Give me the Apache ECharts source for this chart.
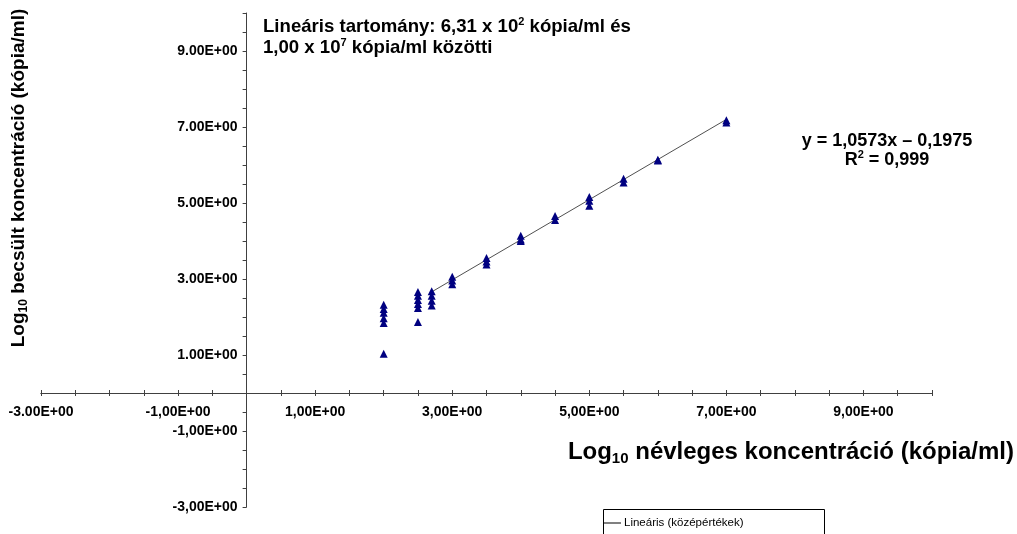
<!DOCTYPE html>
<html><head><meta charset="utf-8">
<script src="https://cdn.jsdelivr.net/npm/echarts@6/dist/echarts.min.js"></script>
<style>html,body{margin:0;padding:0;background:#fff}#chart{width:1017px;height:534px}</style>
</head><body><div id="chart"></div>
<script>
// ---- data ----
const nominalLog = [
  2.0, 2.0, 2.0, 2.0, 2.0, 2.0,
  2.5, 2.5, 2.5, 2.5, 2.5, 2.5,
  2.7, 2.7, 2.7, 2.7,
  3.0, 3.0, 3.0,
  3.5, 3.5, 3.5,
  4.0, 4.0, 4.0,
  4.5, 4.5,
  5.0, 5.0, 5.0,
  5.5, 5.5,
  6.0, 6.0,
  7.0, 7.0
];
const estimatedLog = [
  2.32, 2.21, 2.11, 1.97, 1.84, 1.03,
  2.66, 2.56, 2.45, 2.34, 2.24, 1.87,
  2.68, 2.56, 2.43, 2.30,
  3.06, 2.96, 2.86,
  3.55, 3.46, 3.38,
  4.14, 4.04, 4.00,
  4.66, 4.55,
  5.16, 5.06, 4.93,
  5.64, 5.54,
  6.14, 6.12,
  7.18, 7.12
];
const trendX = [2.7, 7.0];
const trendY = [2.66, 7.20];
const xTickValues = [-3, -1, 1, 3, 5, 7, 9];
const xTickLabels = ['-3.00E+00', '-1,00E+00', '1,00E+00', '3,00E+00', '5,00E+00', '7,00E+00', '9,00E+00'];
const yTickValues = [-3, -1, 1, 3, 5, 7, 9];
const yTickLabels = ['-3,00E+00', '-1,00E+00', '1.00E+00', '3.00E+00', '5.00E+00', '7.00E+00', '9.00E+00'];
const legendName = 'Lineáris (középértékek)';
const seriesName = 'Középértékek';
const axisMin = -3, axisMax = 10, tickStep = 0.5;

// ---- chart ----
const FF = "'Liberation Sans', Arial, sans-serif";
const AX = '#404040';
function labelFor(values, labels) {
  return function (v) {
    for (let i = 0; i < values.length; i++) if (Math.abs(values[i] - v) < 1e-6) return labels[i];
    return '';
  };
}
const scatterData = nominalLog.map((x, i) => [x, estimatedLog[i]]);
const trendData = trendX.map((x, i) => [x, trendY[i]]);

const chart = echarts.init(document.getElementById('chart'), null, { renderer: 'canvas' });
const tickLabelStyle = { color: '#000', fontFamily: FF, fontWeight: 'bold', fontSize: 14 };
const mainRich = (size, lh) => ({ fontFamily: FF, fontWeight: 'bold', fontSize: size, lineHeight: lh, fill: '#000', color: '#000', verticalAlign: 'middle' });
const supRich = { fontFamily: FF, fontWeight: 'bold', fontSize: 11, lineHeight: 15, verticalAlign: 'top', fill: '#000', color: '#000' };

chart.setOption({
  animation: false,
  backgroundColor: '#fff',
  grid: { left: 41, right: 85, top: 13, bottom: 27, containLabel: false, outerBoundsMode: 'none' },
  legend: {
    data: [{ name: legendName, icon: 'rect', itemStyle: { color: '#000' } }],
    left: 604, top: 517, padding: 0,
    itemWidth: 17, itemHeight: 1, itemGap: 0,
    textStyle: { color: '#000', fontFamily: FF, fontSize: 11.5, padding: [0, 0, 0, -2] },
    selectedMode: false
  },
  xAxis: [{
    type: 'value', min: axisMin, max: axisMax, interval: tickStep, position: 'bottom',
    axisLine: { show: true, onZero: false, lineStyle: { color: AX, width: 1 } },
    axisTick: { show: true, inside: false, length: 3, lineStyle: { color: AX, width: 1 } },
    axisLabel: Object.assign({ margin: 12, formatter: labelFor(xTickValues, xTickLabels) }, tickLabelStyle),
    splitLine: { show: false }
  }, {
    type: 'value', min: axisMin, max: axisMax, interval: tickStep, position: 'top',
    axisLine: { show: true, onZero: false, lineStyle: { color: AX, width: 1 } },
    axisTick: { show: true, inside: false, length: 3, lineStyle: { color: AX, width: 1 } },
    axisLabel: { show: false },
    splitLine: { show: false }
  }],
  yAxis: {
    type: 'value', min: axisMin, max: axisMax, interval: tickStep, position: 'left',
    axisLine: { show: true, onZero: false, lineStyle: { color: AX, width: 1 } },
    axisTick: { show: true, inside: false, length: 4, lineStyle: { color: AX, width: 1 } },
    axisLabel: Object.assign({ margin: 9, formatter: labelFor(yTickValues, yTickLabels) }, tickLabelStyle),
    splitLine: { show: false }
  },
  series: [{
    name: legendName, type: 'line', data: trendData, symbol: 'none', xAxisIndex: 0,
    lineStyle: { color: '#505050', width: 1 }, itemStyle: { color: '#505050' }, z: 2
  }, {
    name: seriesName, type: 'scatter', data: scatterData, symbol: 'triangle', symbolSize: [8, 8], xAxisIndex: 0,
    itemStyle: { color: '#000080', opacity: 1 }, z: 3
  }],
  graphic: [
    { type: 'rect', shape: { x: 603.5, y: 509.5, width: 221, height: 40 }, style: { fill: 'none', stroke: '#000', lineWidth: 1 }, silent: true },
    {
      type: 'text', x: 19, y: 178, rotation: Math.PI / 2,
      style: {
        text: '{m|Log}{s|10}{m| becsült koncentráció (kópia/ml)}',
        align: 'center', verticalAlign: 'middle', textAlign: 'center', textVerticalAlign: 'middle',
        rich: { m: mainRich(19, 22), s: { fontFamily: FF, fontWeight: 'bold', fontSize: 12, lineHeight: 14, verticalAlign: 'bottom', fill: '#000' } }
      }
    },
    {
      type: 'text', x: 1014, y: 452,
      style: {
        text: '{m|Log}{s|10}{m| névleges koncentráció (kópia/ml)}',
        align: 'right', verticalAlign: 'middle', textAlign: 'right', textVerticalAlign: 'middle',
        rich: { m: mainRich(24, 28), s: { fontFamily: FF, fontWeight: 'bold', fontSize: 15, lineHeight: 17, verticalAlign: 'bottom', fill: '#000' } }
      }
    },
    {
      type: 'text', x: 263, y: 27,
      style: {
        text: '{m|Lineáris tartomány: 6,31 x 10}{p|2}{m| kópia/ml és}',
        align: 'left', verticalAlign: 'middle', textAlign: 'left', textVerticalAlign: 'middle',
        rich: { m: mainRich(18.6, 22), p: supRich }
      }
    },
    {
      type: 'text', x: 263, y: 48,
      style: {
        text: '{m|1,00 x 10}{p|7}{m| kópia/ml közötti}',
        align: 'left', verticalAlign: 'middle', textAlign: 'left', textVerticalAlign: 'middle',
        rich: { m: mainRich(18.6, 22), p: supRich }
      }
    },
    {
      type: 'text', x: 887, y: 141,
      style: {
        text: 'y = 1,0573x – 0,1975', font: 'bold 18px ' + FF, fill: '#000',
        align: 'center', verticalAlign: 'middle', textAlign: 'center', textVerticalAlign: 'middle'
      }
    },
    {
      type: 'text', x: 887, y: 160,
      style: {
        text: '{m|R}{p|2}{m| = 0,999}',
        align: 'center', verticalAlign: 'middle', textAlign: 'center', textVerticalAlign: 'middle',
        rich: { m: mainRich(18, 22), p: supRich }
      }
    }
  ]
});

// Move the axes so they cross at the origin (zero of the other axis).
const origin = chart.convertToPixel({ gridIndex: 0 }, [0, 0]);
const corner = chart.convertToPixel({ gridIndex: 0 }, [axisMin, axisMin]);
const topCorner = chart.convertToPixel({ gridIndex: 0 }, [axisMin, axisMax]);
chart.setOption({
  xAxis: [{ offset: -(corner[1] - origin[1]) }, { offset: -(origin[1] - topCorner[1]) }],
  yAxis: { offset: -(origin[0] - corner[0]) }
});
</script></body></html>
